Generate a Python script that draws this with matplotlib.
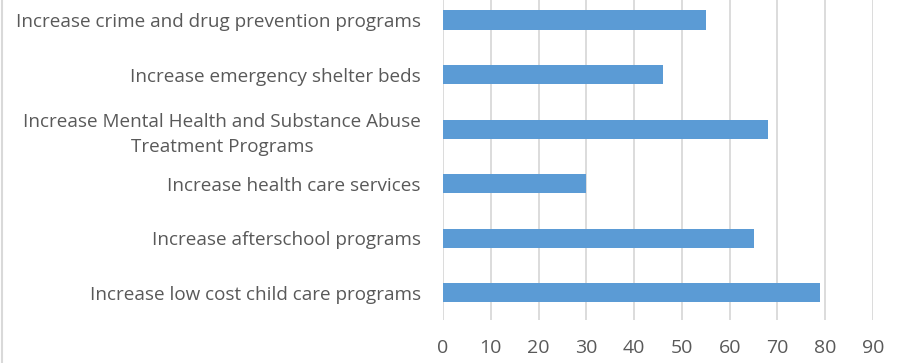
import matplotlib.pyplot as plt
from matplotlib.lines import Line2D

categories = [
    'Increase low cost child care programs',
    'Increase afterschool programs',
    'Increase health care services',
    'Increase Mental Health and Substance Abuse\nTreatment Programs',
    'Increase emergency shelter beds',
    'Increase crime and drug prevention programs',
]
values = [79, 65, 30, 68, 46, 55]
xticks = [0, 10, 20, 30, 40, 50, 60, 70, 80, 90]

plt.rcParams['font.family'] = ['Open Sans', 'DejaVu Sans']

fig = plt.figure(figsize=(9.05, 3.63), dpi=100)
ax = fig.add_axes([443 / 905, 1 - 320 / 363, 430 / 905, 327.3 / 363])

ypos = list(range(len(categories)))
ax.barh(ypos, values, height=0.35, color='#5B9BD5', zorder=3)

ax.set_xlim(0, 90)
ax.set_ylim(-0.5, len(categories) - 0.5)
ax.set_xticks(xticks)
ax.set_yticks(ypos)
ax.set_yticklabels(categories, multialignment='center', linespacing=1.5)
ax.tick_params(axis='y', length=0, labelsize=13.6, labelcolor='#595959', pad=16)
ax.tick_params(axis='x', length=0, labelsize=14, labelcolor='#595959', pad=14)
ax.xaxis.grid(True, color='#D9D9D9', linewidth=1.3, zorder=0)
for s in ax.spines.values():
    s.set_visible(False)

fig.add_artist(Line2D([1.5 / 905, 1.5 / 905], [0, 1], color='#D9D9D9', linewidth=1.5))

fig.savefig('out.png', dpi=100)
